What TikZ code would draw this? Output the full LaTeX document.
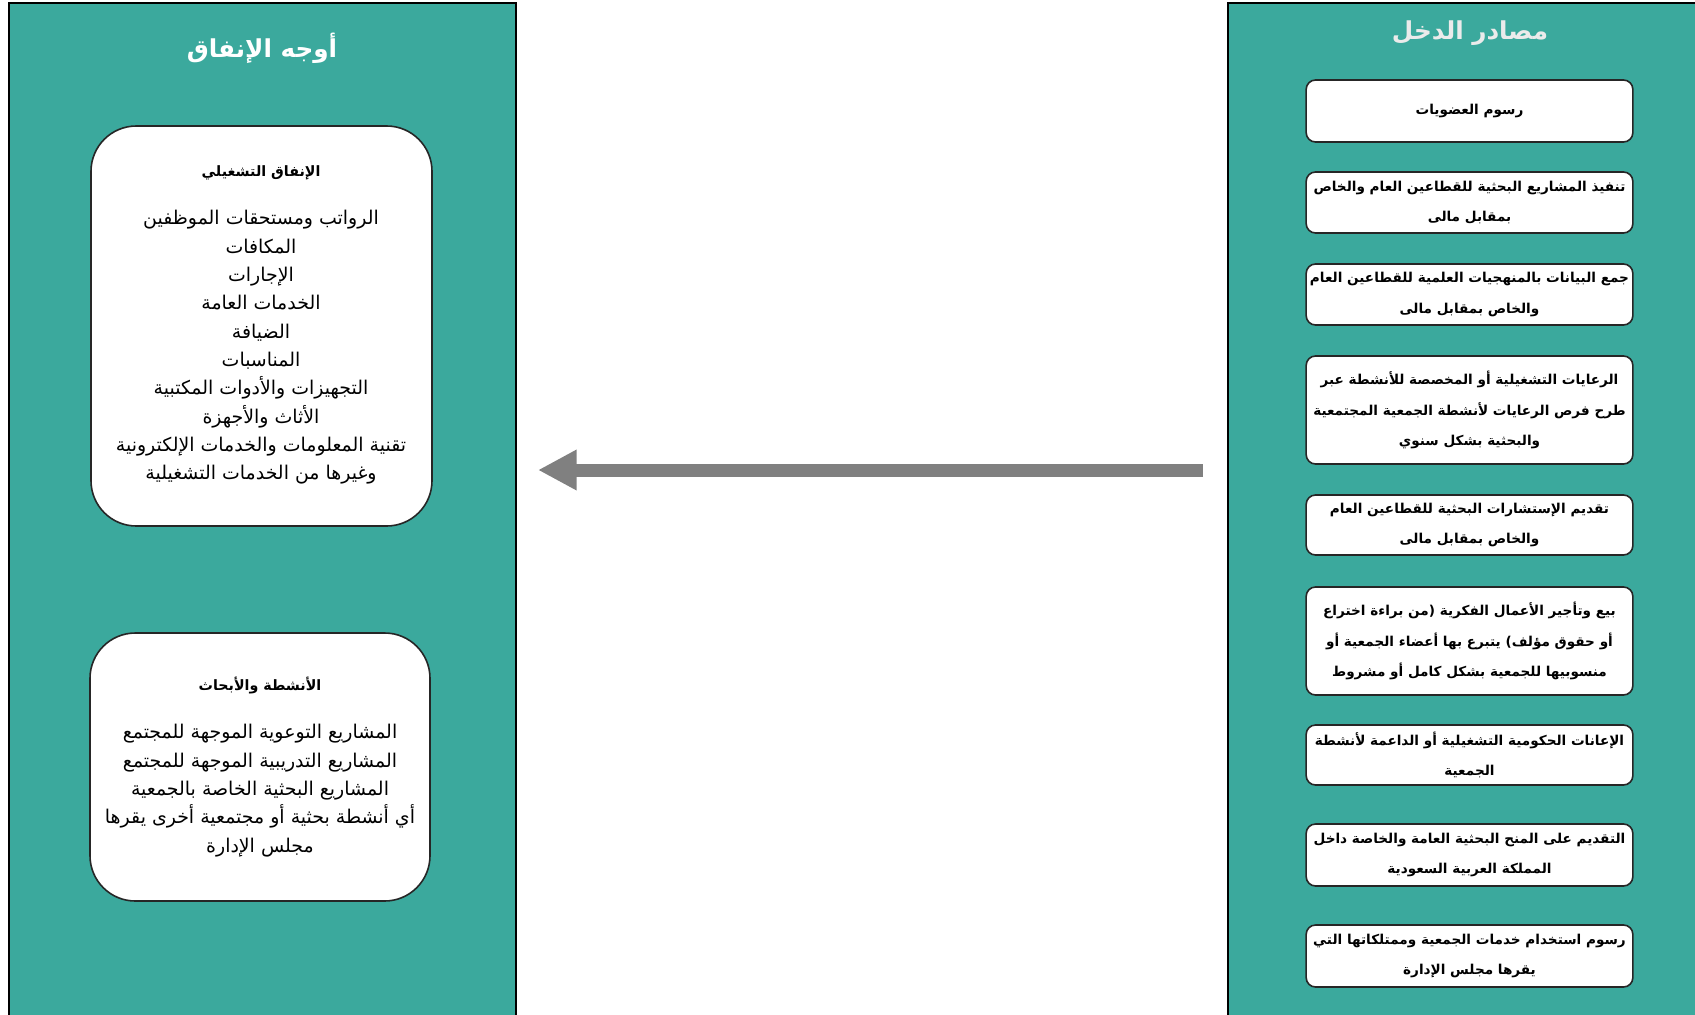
\documentclass[tikz,border=0pt]{standalone}
\usepackage{fontspec}
\usetikzlibrary{arrows.meta}
\newfontfamily\arabicfont[Script=Arabic]{DejaVu Sans}
\TeXXeTstate=1
\newcommand{\ar}[1]{\beginR #1\endR}
\definecolor{panelteal}{RGB}{59,169,157}
\definecolor{arrowgray}{RGB}{128,128,128}

\begin{document}
\begin{tikzpicture}[x=0.75pt, y=-0.75pt,
    panel/.style={draw=black, line width=1.5pt, fill=panelteal},
    paneltitle/.style={font=\arabicfont\bfseries\fontsize{18.5}{22}\selectfont},
    srcbox/.style={draw=black!85, line width=1.2pt, fill=white, rounded corners=7pt,
        minimum width=245pt, inner sep=0pt, align=center,
        font=\arabicfont\bfseries\fontsize{10.2}{23}\selectfont},
    usebox/.style={draw=black!85, line width=1.2pt, fill=white, rounded corners=34pt, inner sep=0pt},
    usehead/.style={font=\arabicfont\bfseries\fontsize{10.7}{14}\selectfont},
    uselist/.style={align=center, font=\arabicfont\fontsize{14.2}{21.25}\selectfont},
    flowarrow/.style={draw=arrowgray, line width=9.75pt, -{Triangle[length=29pt, width=28.5pt]}}]
    \useasboundingbox (0,0) rectangle (1695,1014);

    % Panels
    \draw[panel] (9,3) rectangle (516,1030);
    \draw[panel] (1228,3) rectangle (1710,1030);
    \node[paneltitle, text=white] (spendtitle) at (262,48) {\ar{أوجه الإنفاق}};
    \node[paneltitle, text=black!8] (incometitle) at (1470,33) {\ar{مصادر الدخل}};

    % Spending side
    \node[usebox, minimum width=255.75pt, minimum height=300pt] (opex) at (261.5,326) {};
    \node[usehead] (opexhead) at (261,173) {\ar{الإنفاق التشغيلي}};
    \node[uselist] (opexlist) at (261,347.5) {\ar{الرواتب ومستحقات الموظفين}\\\ar{المكافات}\\\ar{الإجارات}\\
        \ar{الخدمات العامة}\\\ar{الضيافة}\\\ar{المناسبات}\\\ar{التجهيزات والأدوات المكتبية}\\
        \ar{الأثاث والأجهزة}\\\ar{تقنية المعلومات والخدمات الإلكترونية}\\\ar{وغيرها من الخدمات التشغيلية}};

    \node[usebox, minimum width=255pt, minimum height=201pt] (research) at (260,767) {};
    \node[usehead] (researchhead) at (260,685) {\ar{الأنشطة والأبحاث}};
    \node[uselist] (researchlist) at (260,790.5) {\ar{المشاريع التوعوية الموجهة للمجتمع}\\
        \ar{المشاريع التدريبية الموجهة للمجتمع}\\\ar{المشاريع البحثية الخاصة بالجمعية}\\
        \ar{أي أنشطة بحثية أو مجتمعية أخرى يقرها}\\\ar{مجلس الإدارة}};

    % Income side
    \node[srcbox, minimum height=46.5pt] (src1) at (1469.5,111) {\ar{رسوم العضويات}};
    \node[srcbox, minimum height=45.75pt] (src2) at (1469.5,202.5) {\ar{تنفيذ المشاريع البحثية للقطاعين العام والخاص}\\\ar{بمقابل مالى}};
    \node[srcbox, minimum height=45.75pt] (src3) at (1469.5,294.5) {\ar{جمع البيانات بالمنهجيات العلمية للقطاعين العام}\\\ar{والخاص بمقابل مالى}};
    \node[srcbox, minimum height=81pt] (src4) at (1469.5,410) {\ar{الرعايات التشغيلية أو المخصصة للأنشطة عبر}\\
        \ar{طرح فرص الرعايات لأنشطة الجمعية المجتمعية}\\\ar{والبحثية بشكل سنوي}};
    \node[srcbox, minimum height=45pt] (src5) at (1469.5,525) {\ar{تقديم الإستشارات البحثية للقطاعين العام}\\\ar{والخاص بمقابل مالى}};
    \node[srcbox, minimum height=81pt] (src6) at (1469.5,641) {\ar{بيع وتأجير الأعمال الفكرية (من براءة اختراع}\\
        \ar{أو حقوق مؤلف) يتبرع بها أعضاء الجمعية أو}\\\ar{منسوبيها للجمعية بشكل كامل أو مشروط}};
    \node[srcbox, minimum height=45pt] (src7) at (1469.5,755) {\ar{الإعانات الحكومية التشغيلية أو الداعمة لأنشطة}\\\ar{الجمعية}};
    \node[srcbox, minimum height=46.5pt] (src8) at (1469.5,855) {\ar{التقديم على المنح البحثية العامة والخاصة داخل}\\\ar{المملكة العربية السعودية}};
    \node[srcbox, minimum height=46.5pt] (src9) at (1469.5,956) {\ar{رسوم استخدام خدمات الجمعية وممتلكاتها التي}\\\ar{يقرها مجلس الإدارة}};

    % Flow from income to spending
    \coordinate (flowstart) at (1203,470);
    \coordinate (flowend) at (538,470);
    \draw[flowarrow] (flowstart) -- (flowend);
\end{tikzpicture}
\end{document}
